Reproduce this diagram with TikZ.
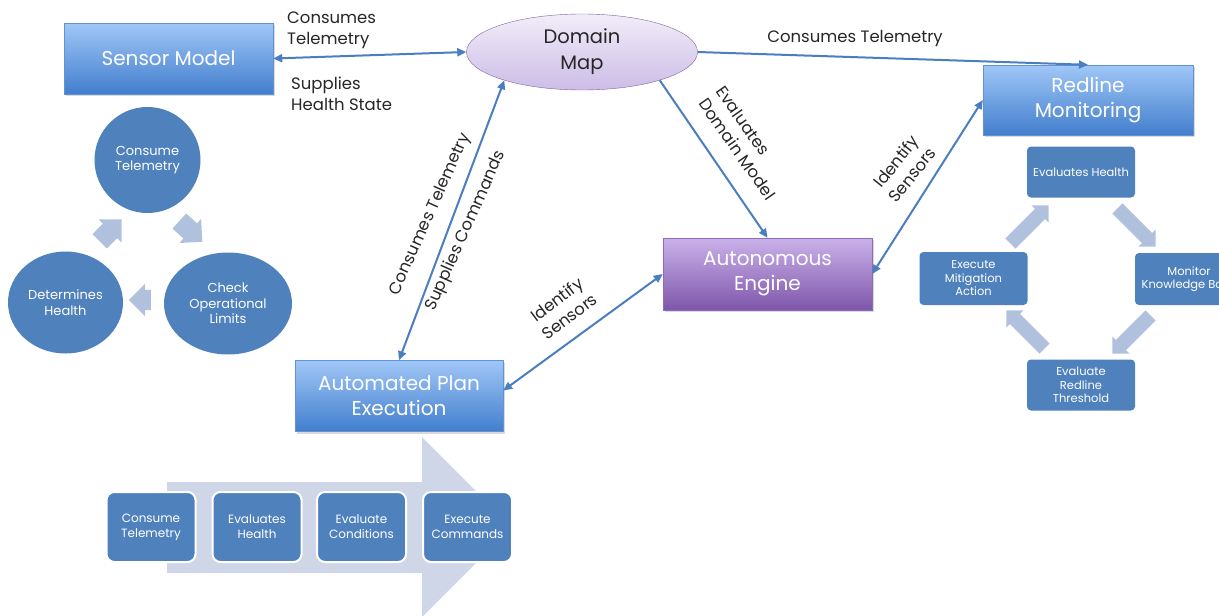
\documentclass[tikz,border=0pt]{standalone}
\usepackage{fontspec}
\setmainfont{Poppins}
\usetikzlibrary{shapes,shapes.arrows,shadows,arrows.meta}

\begin{document}
\begin{tikzpicture}[x=1pt,y=-1pt,
    >={Triangle[length=9pt,width=8pt]},
    link/.style={draw=linkblue, line width=2pt},
    bigbox/.style={rectangle, draw=boxedge, top color=boxtop, bottom color=boxbot,
        text=white, align=center, font=\fontsize{20}{25}\selectfont,
        drop shadow={shadow xshift=2pt, shadow yshift=-2pt, opacity=0.3}},
    engbox/.style={bigbox, draw=engedge, top color=engtop, bottom color=engbot},
    lbl/.style={text=black!85, font=\fontsize{16.5}{21}\selectfont, inner sep=0pt},
    cyc/.style={ellipse, fill=cycblue, text=white, align=center, inner sep=0pt,
        font=\fontsize{13}{15.5}\selectfont},
    rbox/.style={rectangle, rounded corners=4pt, fill=cycblue, text=white, align=center,
        minimum width=108pt, minimum height=51pt, inner sep=0pt,
        font=\fontsize{11.5}{13.5}\selectfont},
    pbox/.style={rectangle, rounded corners=8pt, fill=cycblue, draw=white, line width=2pt,
        text=white, align=center, minimum width=89pt, minimum height=70pt, inner sep=0pt,
        font=\fontsize{12}{15}\selectfont},
    cycarr/.style={single arrow, fill=lightarr, inner xsep=0pt, inner ysep=10pt,
        single arrow head extend=6pt, minimum height=31pt},
    rarr/.style={single arrow, fill=lightarr, inner xsep=0pt, inner ysep=7pt,
        single arrow head extend=5pt, minimum height=54pt}
  ]
    % colours %
    \definecolor{boxtop}{RGB}{160,199,247}
    \definecolor{boxbot}{RGB}{66,126,205}
    \definecolor{boxedge}{RGB}{96,146,212}
    \definecolor{engtop}{RGB}{203,178,234}
    \definecolor{engbot}{RGB}{126,86,170}
    \definecolor{engedge}{RGB}{140,108,182}
    \definecolor{maptop}{RGB}{242,237,249}
    \definecolor{mapbot}{RGB}{204,189,231}
    \definecolor{mapedge}{RGB}{128,98,162}
    \definecolor{linkblue}{RGB}{74,126,190}
    \definecolor{cycblue}{RGB}{79,129,189}
    \definecolor{lightarr}{RGB}{176,193,222}
    \definecolor{bigarr}{RGB}{207,214,232}

    \useasboundingbox (0,0) rectangle (1219,616);
    \clip (0,0) rectangle (1219,616);

    % main blocks %
    \node [bigbox, minimum width=209pt, minimum height=71pt] (sensor) at (168.5,58.5) {Sensor Model};
    \node [ellipse, draw=mapedge, top color=maptop, bottom color=mapbot, text=black!85,
        align=center, minimum width=231pt, minimum height=76pt, inner sep=0pt,
        font=\fontsize{19.5}{26}\selectfont] (domain) at (582,52) {Domain\\Map};
    \node [bigbox, minimum width=210pt, minimum height=70pt] (redline) at (1088,100) {Redline\\Monitoring};
    \node [engbox, minimum width=209pt, minimum height=72pt] (engine) at (767.5,274) {Autonomous\\Engine};
    \node [bigbox, minimum width=208pt, minimum height=71pt] (plan) at (399,396) {Automated Plan\\Execution};

    % links %
    \draw [link,<->] (sensor.east) -- (domain.west);
    \draw [link,->] (domain.east) -- (redline.north);
    \draw [link,<->] (domain.200) -- (plan.north);
    \draw [link,->] (domain.340) -- (engine.north);
    \draw [link,<->] (plan.3) -- (engine.west);
    \draw [link,<->] (engine.east) -- (redline.west);

    % link labels %
    \node [lbl, anchor=west, align=left] (consl) at (287,30) {Consumes\\Telemetry};
    \node [lbl, anchor=west, align=left] (suppl) at (291,94) {Supplies\\Health State};
    \node [lbl] (consr) at (855,39) {Consumes Telemetry};
    \node [lbl, rotate=66] (consp) at (430.5,214.5) {Consumes Telemetry};
    \node [lbl, rotate=66] (suppc) at (466,231) {Supplies Commands};
    \node [lbl, rotate=-55, align=left] (evald) at (746,143) {Evaluates\\Domain Model};
    \node [lbl, rotate=51, align=center] (idrl) at (904,168) {Identify\\Sensors};
    \node [lbl, rotate=37, align=center] (idpl) at (563,308) {Identify\\Sensors};

    % sensor cycle %
    \node [cyc, minimum width=106pt, minimum height=106pt] (ctel) at (147.5,160) {Consume\\Telemetry};
    \node [cyc, minimum width=128pt, minimum height=102pt] (chk) at (228,303.5) {Check\\Operational\\Limits};
    \node [cyc, minimum width=115pt, minimum height=102pt] (dhl) at (65.5,302.5) {Determines\\Health};
    \node [cycarr, rotate=-42] (ca1) at (187,228) {};
    \node [cycarr, rotate=180, minimum height=22pt] (ca2) at (145,300) {};
    \node [cycarr, rotate=45] (ca3) at (107,234) {};

    % redline cycle %
    \node [rbox] (evh) at (1081,172) {Evaluates Health};
    \node [rbox, minimum height=52pt] (mkb) at (1189,279) {Monitor\\Knowledge Base};
    \node [rbox] (ert) at (1081,385) {Evaluate\\Redline\\Threshold};
    \node [rbox, minimum height=53pt] (ema) at (973.5,278.5) {Execute\\Mitigation\\Action};
    \node [rarr, rotate=-45] (ra1) at (1134,225) {};
    \node [rarr, rotate=-135] (ra2) at (1134,332) {};
    \node [rarr, rotate=135] (ra3) at (1028,332) {};
    \node [rarr, rotate=45] (ra4) at (1027,227) {};

    % plan process %
    \fill [bigarr] (167,482) -- (422,482) -- (422,437) -- (512,527) -- (422,617)
        -- (422,573) -- (167,573) -- cycle;
    \node [pbox] (pct) at (151,527) {Consume\\Telemetry};
    \node [pbox] (peh) at (257,527) {Evaluates\\Health};
    \node [pbox] (pec) at (361.5,527) {Evaluate\\Conditions};
    \node [pbox] (pxc) at (467.5,527) {Execute\\Commands};
\end{tikzpicture}
\end{document}
